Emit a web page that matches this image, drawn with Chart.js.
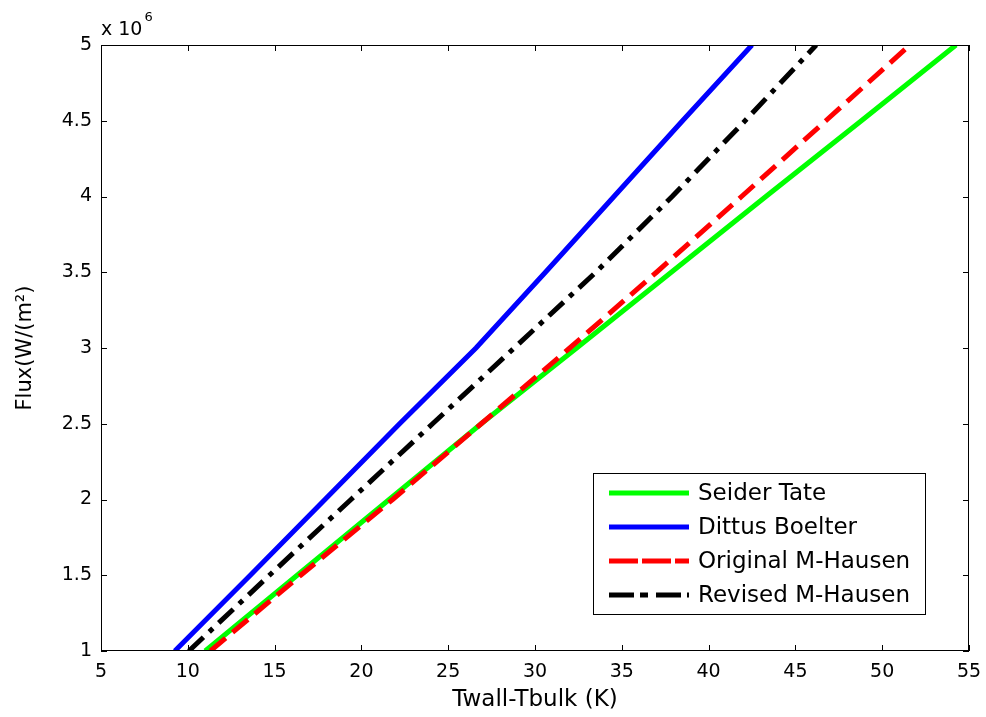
<!DOCTYPE html>
<html>
<head>
<meta charset="utf-8">
<script src="https://cdn.jsdelivr.net/npm/chart.js@4.4.0/dist/chart.umd.min.js"></script>
<style>
  html, body { margin: 0; padding: 0; background: #fff; }
</style>
</head>
<body>
<canvas id="fluxChart" width="986" height="717"></canvas>
<script>
// heat flux levels (x 10^6 W/m^2) and the wall-bulk temperature difference for each correlation
const fluxLevels = [1, 1.5, 2, 2.5, 3, 3.5, 4, 4.5, 5];
const seiderTate = [11.0, 16.3, 21.6, 26.9, 32.4, 37.85, 43.3, 48.8, 54.25];
const dittusBoelter = [9.25, 13.6, 17.9, 22.2, 26.6, 30.6, 34.55, 38.5, 42.5];
const originalMHausen = [11.3, 16.5, 21.8, 26.9, 32.0, 37.0, 41.9, 46.75, 51.6];
const revisedMHausen = [10.06, 14.7, 19.4, 24.1, 28.8, 33.5, 37.9, 42.1, 46.2];

const xTicks = [5, 10, 15, 20, 25, 30, 35, 40, 45, 50, 55];
const yTicks = [1, 1.5, 2, 2.5, 3, 3.5, 4, 4.5, 5];
const seriesNames = ['Seider Tate', 'Dittus Boelter', 'Original M-Hausen', 'Revised M-Hausen'];

const FONT = '"DejaVu Sans", "Liberation Sans", Arial, sans-serif';

function toPoints(xs) {
  return xs.map((x, i) => ({ x: x, y: fluxLevels[i] }));
}

// matlab-like box, inward ticks, exponent note and legend
const matlabFrame = {
  id: 'matlabFrame',
  afterDraw(chart) {
    const ctx = chart.ctx;
    const a = chart.chartArea;
    const xs = chart.scales.x, ys = chart.scales.y;
    ctx.save();
    ctx.strokeStyle = '#000';
    ctx.lineWidth = 1;
    ctx.setLineDash([]);
    ctx.strokeRect(a.left + 0.5, a.top + 0.5, a.right - a.left - 1, a.bottom - a.top - 1);

    const t = 6;
    ctx.beginPath();
    xTicks.forEach(v => {
      const p = Math.round(xs.getPixelForValue(v)) + 0.5;
      ctx.moveTo(p, a.bottom); ctx.lineTo(p, a.bottom - t);
      ctx.moveTo(p, a.top); ctx.lineTo(p, a.top + t);
    });
    yTicks.forEach(v => {
      const p = Math.round(ys.getPixelForValue(v)) + 0.5;
      ctx.moveTo(a.left, p); ctx.lineTo(a.left + t, p);
      ctx.moveTo(a.right, p); ctx.lineTo(a.right - t, p);
    });
    ctx.stroke();

    // x 10^6
    ctx.fillStyle = '#000';
    ctx.textBaseline = 'alphabetic';
    ctx.textAlign = 'left';
    ctx.font = '19px ' + FONT;
    ctx.fillText('x 10', a.left, 35);
    const w = ctx.measureText('x 10').width;
    ctx.font = '13px ' + FONT;
    ctx.fillText('6', a.left + w + 2, 21);

    // legend
    const lx = 593, ly = 473, lw = 332, lh = 141;
    ctx.fillStyle = '#fff';
    ctx.fillRect(lx, ly, lw, lh);
    ctx.strokeStyle = '#000';
    ctx.lineWidth = 1;
    ctx.strokeRect(lx + 0.5, ly + 0.5, lw, lh);
    const legendDash = [[], [], [29, 4], [25, 6, 8, 8]];
    ctx.font = '23px ' + FONT;
    ctx.textBaseline = 'middle';
    chart.data.datasets.forEach((ds, i) => {
      const yy = 493 + i * 34;
      ctx.strokeStyle = ds.borderColor;
      ctx.lineWidth = 5;
      ctx.lineCap = 'butt';
      ctx.setLineDash(legendDash[i]);
      ctx.beginPath();
      ctx.moveTo(609, yy);
      ctx.lineTo(689, yy);
      ctx.stroke();
      ctx.setLineDash([]);
      ctx.fillStyle = '#000';
      ctx.fillText(ds.label, 698, yy + 1);
    });
    ctx.restore();
  }
};

const data = {
  datasets: [
    { label: seriesNames[0], data: toPoints(seiderTate), borderColor: '#00ff00', borderWidth: 5, order: 3 },
    { label: seriesNames[1], data: toPoints(dittusBoelter), borderColor: '#0000ff', borderWidth: 5, order: 2 },
    { label: seriesNames[2], data: toPoints(originalMHausen), borderColor: '#ff0000', borderWidth: 5, borderDash: [20, 9], order: 1 },
    { label: seriesNames[3], data: toPoints(revisedMHausen), borderColor: '#000000', borderWidth: 5, borderDash: [20, 8, 5, 8], order: 0 }
  ]
};

const config = {
  type: 'scatter',
  data: data,
  options: {
    responsive: false,
    animation: false,
    showLine: true,
    elements: { point: { radius: 0, hoverRadius: 0 }, line: { tension: 0, borderCapStyle: 'butt' } },
    layout: { padding: { top: 45, right: 17, left: 0, bottom: 0 } },
    plugins: { legend: { display: false }, tooltip: { enabled: false } },
    scales: {
      x: {
        type: 'linear',
        min: 5, max: 55,
        afterBuildTicks: s => { s.ticks = xTicks.map(v => ({ value: v })); },
        afterFit: s => { s.height = 66; s.paddingLeft = 0; s.paddingRight = 0; },
        grid: { display: false, drawTicks: false },
        border: { display: false },
        ticks: { color: '#000', font: { family: FONT, size: 19 }, padding: 10, maxRotation: 0, callback: v => String(v) },
        title: { display: true, text: 'Twall-Tbulk (K)', color: '#000', font: { family: FONT, size: 23 }, padding: { top: 0, bottom: 3 } }
      },
      y: {
        type: 'linear',
        min: 1, max: 5,
        afterBuildTicks: s => { s.ticks = yTicks.map(v => ({ value: v })); },
        afterFit: s => { s.width = 101; s.paddingTop = 0; s.paddingBottom = 0; },
        grid: { display: false, drawTicks: false },
        border: { display: false },
        ticks: { color: '#000', font: { family: FONT, size: 19 }, padding: 9, callback: v => String(v) },
        title: { display: true, text: 'Flux(W/(m²)', color: '#000', font: { family: FONT, size: 21 }, padding: { top: 13, bottom: 0 } }
      }
    }
  },
  plugins: [matlabFrame]
};

const myChart = new Chart(document.getElementById('fluxChart').getContext('2d'), config);
</script>
</body>
</html>
